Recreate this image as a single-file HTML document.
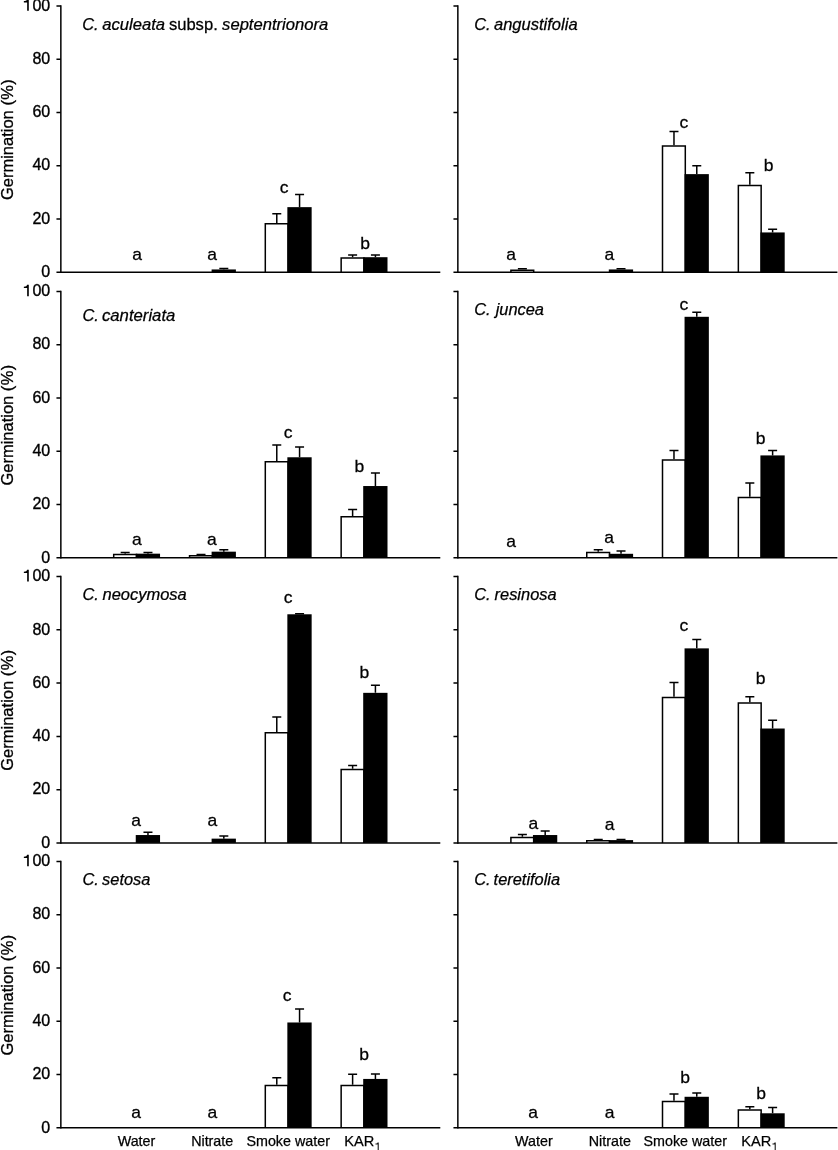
<!DOCTYPE html>
<html><head><meta charset="utf-8"><title>Germination</title>
<style>html,body{margin:0;padding:0;background:#fff}svg{display:block;will-change:transform}text{font-family:"Liberation Sans",sans-serif;fill:#000}</style>
</head><body>
<svg width="838" height="1150" viewBox="0 0 838 1150">
<rect width="838" height="1150" fill="#fff"/>
<path d="M223.82 269.45V268.61M219.32 268.61H228.32" stroke="#000" stroke-width="1.5" fill="none"/>
<rect x="211.6" y="269.45" width="24.3" height="2.8" fill="#000"/>
<path d="M276.78 223.12V213.75M272.28 213.75H281.28" stroke="#000" stroke-width="1.5" fill="none"/>
<path d="M265.3 272.25V223.87H288.1V272.25" fill="#fff" stroke="#000" stroke-width="1.5"/>
<path d="M299.57 207.14V194.57M295.07 194.57H304.07" stroke="#000" stroke-width="1.5" fill="none"/>
<rect x="287.35" y="207.14" width="24.3" height="65.11" fill="#000"/>
<path d="M352.62 257.2V255.02M348.12 255.02H357.12" stroke="#000" stroke-width="1.5" fill="none"/>
<path d="M341.15 272.25V257.95H363.95V272.25" fill="#fff" stroke="#000" stroke-width="1.5"/>
<path d="M375.42 257.2V255.02M370.92 255.02H379.92" stroke="#000" stroke-width="1.5" fill="none"/>
<rect x="363.2" y="257.2" width="24.3" height="15.05" fill="#000"/>
<g stroke="#000" stroke-width="1.5" fill="none">
<path d="M60.85 5.2V273"/>
<path d="M56.45 272.25H440.3"/>
<path d="M56.45 218.99H60.85M56.45 165.73H60.85M56.45 112.47H60.85M56.45 59.21H60.85M56.45 5.95H60.85"/>
</g>
<text transform="translate(137.2 259.85) scale(1.08 1)" font-size="16.2" text-anchor="middle" stroke="#000" stroke-width="0.25">a</text>
<text transform="translate(212.1 259.85) scale(1.08 1)" font-size="16.2" text-anchor="middle" stroke="#000" stroke-width="0.25">a</text>
<text transform="translate(284.2 193.45) scale(1.08 1)" font-size="16.2" text-anchor="middle" stroke="#000" stroke-width="0.25">c</text>
<text transform="translate(365.2 248.65) scale(1.08 1)" font-size="16.2" text-anchor="middle" stroke="#000" stroke-width="0.25">b</text>
<text transform="translate(82.27 30.1) scale(1 1)" font-size="16.4" font-style="italic" stroke="#000" stroke-width="0.25">C.</text>
<text transform="translate(102.2 30.1) scale(1.015 1)" font-size="16.4" font-style="italic" stroke="#000" stroke-width="0.25">aculeata</text>
<text transform="translate(168.88 30.1) scale(1.012 1)" font-size="16.4" stroke="#000" stroke-width="0.25">subsp.</text>
<text transform="translate(222.1 30.1) scale(1.013 1)" font-size="16.4" font-style="italic" stroke="#000" stroke-width="0.25">septentrionora</text>
<path d="M522.38 269.45V268.87M517.88 268.87H526.88" stroke="#000" stroke-width="1.5" fill="none"/>
<path d="M510.9 272.25V270.2H533.7V272.25" fill="#fff" stroke="#000" stroke-width="1.5"/>
<path d="M621.02 269.45V268.87M616.52 268.87H625.52" stroke="#000" stroke-width="1.5" fill="none"/>
<rect x="608.8" y="269.45" width="24.3" height="2.8" fill="#000"/>
<path d="M673.98 145.36V131.46M669.48 131.46H678.48" stroke="#000" stroke-width="1.5" fill="none"/>
<path d="M662.5 272.25V146.11H685.3V272.25" fill="#fff" stroke="#000" stroke-width="1.5"/>
<path d="M696.77 174.12V165.81M692.27 165.81H701.27" stroke="#000" stroke-width="1.5" fill="none"/>
<rect x="684.55" y="174.12" width="24.3" height="98.13" fill="#000"/>
<path d="M749.83 184.77V172.74M745.33 172.74H754.33" stroke="#000" stroke-width="1.5" fill="none"/>
<path d="M738.35 272.25V185.52H761.15V272.25" fill="#fff" stroke="#000" stroke-width="1.5"/>
<path d="M772.62 232.44V229.19M768.12 229.19H777.12" stroke="#000" stroke-width="1.5" fill="none"/>
<rect x="760.4" y="232.44" width="24.3" height="39.81" fill="#000"/>
<g stroke="#000" stroke-width="1.5" fill="none">
<path d="M457.85 5.2V273"/>
<path d="M453.45 272.25H837.4"/>
<path d="M453.45 218.99H457.85M453.45 165.73H457.85M453.45 112.47H457.85M453.45 59.21H457.85M453.45 5.95H457.85"/>
</g>
<text transform="translate(511 259.65) scale(1.08 1)" font-size="16.2" text-anchor="middle" stroke="#000" stroke-width="0.25">a</text>
<text transform="translate(609.3 259.65) scale(1.08 1)" font-size="16.2" text-anchor="middle" stroke="#000" stroke-width="0.25">a</text>
<text transform="translate(684 128.05) scale(1.08 1)" font-size="16.2" text-anchor="middle" stroke="#000" stroke-width="0.25">c</text>
<text transform="translate(768.5 170.55) scale(1.08 1)" font-size="16.2" text-anchor="middle" stroke="#000" stroke-width="0.25">b</text>
<text transform="translate(474.28 29.8) scale(1 1)" font-size="16.4" font-style="italic" stroke="#000" stroke-width="0.25">C.</text>
<text transform="translate(494 29.8) scale(1.008 1)" font-size="16.4" font-style="italic" stroke="#000" stroke-width="0.25">angustifolia</text>
<text x="50.2" y="276.95" font-size="16.0" text-anchor="end" stroke="#000" stroke-width="0.35">0</text>
<text x="50.2" y="223.69" font-size="16.0" text-anchor="end" stroke="#000" stroke-width="0.35">20</text>
<text x="50.2" y="170.43" font-size="16.0" text-anchor="end" stroke="#000" stroke-width="0.35">40</text>
<text x="50.2" y="117.17" font-size="16.0" text-anchor="end" stroke="#000" stroke-width="0.35">60</text>
<text x="50.2" y="63.91" font-size="16.0" text-anchor="end" stroke="#000" stroke-width="0.35">80</text>
<text x="50.2" y="10.65" font-size="16.0" text-anchor="end" stroke="#000" stroke-width="0.35">00</text>
<path d="M28.8 -0.85V10.75H27.15V2.45H23.85V1.1C26 1.1 26.95 0.4 27.05 -0.85Z" fill="#000"/>
<text transform="translate(13.2 139.4) rotate(-90)" font-size="16.5" text-anchor="middle" stroke="#000" stroke-width="0.3">Germination <tspan letter-spacing="0.4">(%)</tspan></text>
<path d="M125.17 553.67V552.56M120.67 552.56H129.68" stroke="#000" stroke-width="1.5" fill="none"/>
<path d="M113.7 557.8V554.42H136.5V557.8" fill="#fff" stroke="#000" stroke-width="1.5"/>
<path d="M147.97 553.67V552.56M143.47 552.56H152.47" stroke="#000" stroke-width="1.5" fill="none"/>
<rect x="135.75" y="553.67" width="24.3" height="4.13" fill="#000"/>
<path d="M201.02 555V554.55M196.52 554.55H205.52" stroke="#000" stroke-width="1.5" fill="none"/>
<path d="M189.55 557.8V555.75H212.35V557.8" fill="#fff" stroke="#000" stroke-width="1.5"/>
<path d="M223.82 551.67V549.63M219.32 549.63H228.32" stroke="#000" stroke-width="1.5" fill="none"/>
<rect x="211.6" y="551.67" width="24.3" height="6.13" fill="#000"/>
<path d="M276.78 461V444.97M272.28 444.97H281.28" stroke="#000" stroke-width="1.5" fill="none"/>
<path d="M265.3 557.8V461.75H288.1V557.8" fill="#fff" stroke="#000" stroke-width="1.5"/>
<path d="M299.57 457.27V447.1M295.07 447.1H304.07" stroke="#000" stroke-width="1.5" fill="none"/>
<rect x="287.35" y="457.27" width="24.3" height="100.53" fill="#000"/>
<path d="M352.62 516.12V509.42M348.12 509.42H357.12" stroke="#000" stroke-width="1.5" fill="none"/>
<path d="M341.15 557.8V516.87H363.95V557.8" fill="#fff" stroke="#000" stroke-width="1.5"/>
<path d="M375.42 486.03V472.93M370.92 472.93H379.92" stroke="#000" stroke-width="1.5" fill="none"/>
<rect x="363.2" y="486.03" width="24.3" height="71.77" fill="#000"/>
<g stroke="#000" stroke-width="1.5" fill="none">
<path d="M60.85 290.75V558.55"/>
<path d="M56.45 557.8H440.3"/>
<path d="M56.45 504.54H60.85M56.45 451.28H60.85M56.45 398.02H60.85M56.45 344.76H60.85M56.45 291.5H60.85"/>
</g>
<text transform="translate(136.9 545.25) scale(1.08 1)" font-size="16.2" text-anchor="middle" stroke="#000" stroke-width="0.25">a</text>
<text transform="translate(211.9 545.25) scale(1.08 1)" font-size="16.2" text-anchor="middle" stroke="#000" stroke-width="0.25">a</text>
<text transform="translate(288.2 437.65) scale(1.08 1)" font-size="16.2" text-anchor="middle" stroke="#000" stroke-width="0.25">c</text>
<text transform="translate(359.3 471.95) scale(1.08 1)" font-size="16.2" text-anchor="middle" stroke="#000" stroke-width="0.25">b</text>
<text transform="translate(82.38 321) scale(1 1)" font-size="16.4" font-style="italic" stroke="#000" stroke-width="0.25">C.</text>
<text transform="translate(101.97 321) scale(1.02 1)" font-size="16.4" font-style="italic" stroke="#000" stroke-width="0.25">canteriata</text>
<path d="M598.23 551.81V549.63M593.73 549.63H602.73" stroke="#000" stroke-width="1.5" fill="none"/>
<path d="M586.75 557.8V552.56H609.55V557.8" fill="#fff" stroke="#000" stroke-width="1.5"/>
<path d="M621.02 553.8V551.09M616.52 551.09H625.52" stroke="#000" stroke-width="1.5" fill="none"/>
<rect x="608.8" y="553.8" width="24.3" height="4" fill="#000"/>
<path d="M673.98 459.14V450.56M669.48 450.56H678.48" stroke="#000" stroke-width="1.5" fill="none"/>
<path d="M662.5 557.8V459.89H685.3V557.8" fill="#fff" stroke="#000" stroke-width="1.5"/>
<path d="M696.77 316.8V312.36M692.27 312.36H701.27" stroke="#000" stroke-width="1.5" fill="none"/>
<rect x="684.55" y="316.8" width="24.3" height="241" fill="#000"/>
<path d="M749.83 496.68V483.05M745.33 483.05H754.33" stroke="#000" stroke-width="1.5" fill="none"/>
<path d="M738.35 557.8V497.43H761.15V557.8" fill="#fff" stroke="#000" stroke-width="1.5"/>
<path d="M772.62 455.41V450.56M768.12 450.56H777.12" stroke="#000" stroke-width="1.5" fill="none"/>
<rect x="760.4" y="455.41" width="24.3" height="102.39" fill="#000"/>
<g stroke="#000" stroke-width="1.5" fill="none">
<path d="M457.85 290.75V558.55"/>
<path d="M453.45 557.8H837.4"/>
<path d="M453.45 504.54H457.85M453.45 451.28H457.85M453.45 398.02H457.85M453.45 344.76H457.85M453.45 291.5H457.85"/>
</g>
<text transform="translate(511 546.75) scale(1.08 1)" font-size="16.2" text-anchor="middle" stroke="#000" stroke-width="0.25">a</text>
<text transform="translate(609.1 543.35) scale(1.08 1)" font-size="16.2" text-anchor="middle" stroke="#000" stroke-width="0.25">a</text>
<text transform="translate(684 310.45) scale(1.08 1)" font-size="16.2" text-anchor="middle" stroke="#000" stroke-width="0.25">c</text>
<text transform="translate(760.6 444.35) scale(1.08 1)" font-size="16.2" text-anchor="middle" stroke="#000" stroke-width="0.25">b</text>
<text transform="translate(474.28 315) scale(1 1)" font-size="16.4" font-style="italic" stroke="#000" stroke-width="0.25">C.</text>
<text transform="translate(495.65 315) scale(1 1)" font-size="16.4" font-style="italic" stroke="#000" stroke-width="0.25">juncea</text>
<text x="50.2" y="562.5" font-size="16.0" text-anchor="end" stroke="#000" stroke-width="0.35">0</text>
<text x="50.2" y="509.24" font-size="16.0" text-anchor="end" stroke="#000" stroke-width="0.35">20</text>
<text x="50.2" y="455.98" font-size="16.0" text-anchor="end" stroke="#000" stroke-width="0.35">40</text>
<text x="50.2" y="402.72" font-size="16.0" text-anchor="end" stroke="#000" stroke-width="0.35">60</text>
<text x="50.2" y="349.46" font-size="16.0" text-anchor="end" stroke="#000" stroke-width="0.35">80</text>
<text x="50.2" y="296.2" font-size="16.0" text-anchor="end" stroke="#000" stroke-width="0.35">00</text>
<path d="M28.8 284.7V296.3H27.15V288H23.85V286.65C26 286.65 26.95 285.95 27.05 284.7Z" fill="#000"/>
<text transform="translate(13.2 424.95) rotate(-90)" font-size="16.5" text-anchor="middle" stroke="#000" stroke-width="0.3">Germination <tspan letter-spacing="0.4">(%)</tspan></text>
<path d="M147.97 835.04V832.33M143.47 832.33H152.47" stroke="#000" stroke-width="1.5" fill="none"/>
<rect x="135.75" y="835.04" width="24.3" height="7.86" fill="#000"/>
<path d="M223.82 838.64V836.06M219.32 836.06H228.32" stroke="#000" stroke-width="1.5" fill="none"/>
<rect x="211.6" y="838.64" width="24.3" height="4.26" fill="#000"/>
<path d="M276.78 731.99V717.02M272.28 717.02H281.28" stroke="#000" stroke-width="1.5" fill="none"/>
<path d="M265.3 842.9V732.74H288.1V842.9" fill="#fff" stroke="#000" stroke-width="1.5"/>
<path d="M299.57 614.28V613.7M295.07 613.7H304.07" stroke="#000" stroke-width="1.5" fill="none"/>
<rect x="287.35" y="614.28" width="24.3" height="228.62" fill="#000"/>
<path d="M352.62 768.73V765.49M348.12 765.49H357.12" stroke="#000" stroke-width="1.5" fill="none"/>
<path d="M341.15 842.9V769.48H363.95V842.9" fill="#fff" stroke="#000" stroke-width="1.5"/>
<path d="M375.42 692.84V685.33M370.92 685.33H379.92" stroke="#000" stroke-width="1.5" fill="none"/>
<rect x="363.2" y="692.84" width="24.3" height="150.06" fill="#000"/>
<g stroke="#000" stroke-width="1.5" fill="none">
<path d="M60.85 575.85V843.65"/>
<path d="M56.45 842.9H440.3"/>
<path d="M56.45 789.64H60.85M56.45 736.38H60.85M56.45 683.12H60.85M56.45 629.86H60.85M56.45 576.6H60.85"/>
</g>
<text transform="translate(136 826.45) scale(1.08 1)" font-size="16.2" text-anchor="middle" stroke="#000" stroke-width="0.25">a</text>
<text transform="translate(212.4 826.45) scale(1.08 1)" font-size="16.2" text-anchor="middle" stroke="#000" stroke-width="0.25">a</text>
<text transform="translate(288.2 603.35) scale(1.08 1)" font-size="16.2" text-anchor="middle" stroke="#000" stroke-width="0.25">c</text>
<text transform="translate(364.3 678.35) scale(1.08 1)" font-size="16.2" text-anchor="middle" stroke="#000" stroke-width="0.25">b</text>
<text transform="translate(82.38 600) scale(1 1)" font-size="16.4" font-style="italic" stroke="#000" stroke-width="0.25">C.</text>
<text transform="translate(102.5 600) scale(1.005 1)" font-size="16.4" font-style="italic" stroke="#000" stroke-width="0.25">neocymosa</text>
<path d="M522.38 836.64V834.46M517.88 834.46H526.88" stroke="#000" stroke-width="1.5" fill="none"/>
<path d="M510.9 842.9V837.39H533.7V842.9" fill="#fff" stroke="#000" stroke-width="1.5"/>
<path d="M545.18 835.04V831M540.68 831H549.68" stroke="#000" stroke-width="1.5" fill="none"/>
<rect x="532.95" y="835.04" width="24.3" height="7.86" fill="#000"/>
<path d="M598.23 840.1V839.52M593.73 839.52H602.73" stroke="#000" stroke-width="1.5" fill="none"/>
<path d="M586.75 842.9V840.85H609.55V842.9" fill="#fff" stroke="#000" stroke-width="1.5"/>
<path d="M621.02 840.1V839.52M616.52 839.52H625.52" stroke="#000" stroke-width="1.5" fill="none"/>
<rect x="608.8" y="840.1" width="24.3" height="2.8" fill="#000"/>
<path d="M673.98 696.83V682.4M669.48 682.4H678.48" stroke="#000" stroke-width="1.5" fill="none"/>
<path d="M662.5 842.9V697.58H685.3V842.9" fill="#fff" stroke="#000" stroke-width="1.5"/>
<path d="M696.77 648.37V639.53M692.27 639.53H701.27" stroke="#000" stroke-width="1.5" fill="none"/>
<rect x="684.55" y="648.37" width="24.3" height="194.53" fill="#000"/>
<path d="M749.83 702.16V696.78M745.33 696.78H754.33" stroke="#000" stroke-width="1.5" fill="none"/>
<path d="M738.35 842.9V702.91H761.15V842.9" fill="#fff" stroke="#000" stroke-width="1.5"/>
<path d="M772.62 728.52V720.22M768.12 720.22H777.12" stroke="#000" stroke-width="1.5" fill="none"/>
<rect x="760.4" y="728.52" width="24.3" height="114.38" fill="#000"/>
<g stroke="#000" stroke-width="1.5" fill="none">
<path d="M457.85 575.85V843.65"/>
<path d="M453.45 842.9H837.4"/>
<path d="M453.45 789.64H457.85M453.45 736.38H457.85M453.45 683.12H457.85M453.45 629.86H457.85M453.45 576.6H457.85"/>
</g>
<text transform="translate(533.4 828.75) scale(1.08 1)" font-size="16.2" text-anchor="middle" stroke="#000" stroke-width="0.25">a</text>
<text transform="translate(609.5 829.85) scale(1.08 1)" font-size="16.2" text-anchor="middle" stroke="#000" stroke-width="0.25">a</text>
<text transform="translate(684 630.85) scale(1.08 1)" font-size="16.2" text-anchor="middle" stroke="#000" stroke-width="0.25">c</text>
<text transform="translate(760.6 684.45) scale(1.08 1)" font-size="16.2" text-anchor="middle" stroke="#000" stroke-width="0.25">b</text>
<text transform="translate(474.28 600) scale(1 1)" font-size="16.4" font-style="italic" stroke="#000" stroke-width="0.25">C.</text>
<text transform="translate(494.6 600) scale(1 1)" font-size="16.4" font-style="italic" stroke="#000" stroke-width="0.25">resinosa</text>
<text x="50.2" y="847.6" font-size="16.0" text-anchor="end" stroke="#000" stroke-width="0.35">0</text>
<text x="50.2" y="794.34" font-size="16.0" text-anchor="end" stroke="#000" stroke-width="0.35">20</text>
<text x="50.2" y="741.08" font-size="16.0" text-anchor="end" stroke="#000" stroke-width="0.35">40</text>
<text x="50.2" y="687.82" font-size="16.0" text-anchor="end" stroke="#000" stroke-width="0.35">60</text>
<text x="50.2" y="634.56" font-size="16.0" text-anchor="end" stroke="#000" stroke-width="0.35">80</text>
<text x="50.2" y="581.3" font-size="16.0" text-anchor="end" stroke="#000" stroke-width="0.35">00</text>
<path d="M28.8 569.8V581.4H27.15V573.1H23.85V571.75C26 571.75 26.95 571.05 27.05 569.8Z" fill="#000"/>
<text transform="translate(13.2 710.05) rotate(-90)" font-size="16.5" text-anchor="middle" stroke="#000" stroke-width="0.3">Germination <tspan letter-spacing="0.4">(%)</tspan></text>
<path d="M276.78 1084.79V1077.82M272.28 1077.82H281.28" stroke="#000" stroke-width="1.5" fill="none"/>
<path d="M265.3 1127.8V1085.54H288.1V1127.8" fill="#fff" stroke="#000" stroke-width="1.5"/>
<path d="M299.57 1022.48V1009.11M295.07 1009.11H304.07" stroke="#000" stroke-width="1.5" fill="none"/>
<rect x="287.35" y="1022.48" width="24.3" height="105.32" fill="#000"/>
<path d="M352.62 1084.79V1074.36M348.12 1074.36H357.12" stroke="#000" stroke-width="1.5" fill="none"/>
<path d="M341.15 1127.8V1085.54H363.95V1127.8" fill="#fff" stroke="#000" stroke-width="1.5"/>
<path d="M375.42 1078.93V1074.09M370.92 1074.09H379.92" stroke="#000" stroke-width="1.5" fill="none"/>
<rect x="363.2" y="1078.93" width="24.3" height="48.87" fill="#000"/>
<g stroke="#000" stroke-width="1.5" fill="none">
<path d="M60.85 860.75V1128.55"/>
<path d="M56.45 1127.8H440.3"/>
<path d="M56.45 1074.54H60.85M56.45 1021.28H60.85M56.45 968.02H60.85M56.45 914.76H60.85M56.45 861.5H60.85"/>
</g>
<text transform="translate(136.1 1118.15) scale(1.08 1)" font-size="16.2" text-anchor="middle" stroke="#000" stroke-width="0.25">a</text>
<text transform="translate(212.4 1118.15) scale(1.08 1)" font-size="16.2" text-anchor="middle" stroke="#000" stroke-width="0.25">a</text>
<text transform="translate(287.2 1001.05) scale(1.08 1)" font-size="16.2" text-anchor="middle" stroke="#000" stroke-width="0.25">c</text>
<text transform="translate(364.2 1059.65) scale(1.08 1)" font-size="16.2" text-anchor="middle" stroke="#000" stroke-width="0.25">b</text>
<text transform="translate(82.38 884.7) scale(1 1)" font-size="16.4" font-style="italic" stroke="#000" stroke-width="0.25">C.</text>
<text transform="translate(102.1 884.7) scale(1 1)" font-size="16.4" font-style="italic" stroke="#000" stroke-width="0.25">setosa</text>
<path d="M673.98 1100.77V1094.06M669.48 1094.06H678.48" stroke="#000" stroke-width="1.5" fill="none"/>
<path d="M662.5 1127.8V1101.52H685.3V1127.8" fill="#fff" stroke="#000" stroke-width="1.5"/>
<path d="M696.77 1096.78V1093M692.27 1093H701.27" stroke="#000" stroke-width="1.5" fill="none"/>
<rect x="684.55" y="1096.78" width="24.3" height="31.02" fill="#000"/>
<path d="M749.83 1109.29V1106.85M745.33 1106.85H754.33" stroke="#000" stroke-width="1.5" fill="none"/>
<path d="M738.35 1127.8V1110.04H761.15V1127.8" fill="#fff" stroke="#000" stroke-width="1.5"/>
<path d="M772.62 1113.29V1107.38M768.12 1107.38H777.12" stroke="#000" stroke-width="1.5" fill="none"/>
<rect x="760.4" y="1113.29" width="24.3" height="14.51" fill="#000"/>
<g stroke="#000" stroke-width="1.5" fill="none">
<path d="M457.85 860.75V1128.55"/>
<path d="M453.45 1127.8H837.4"/>
<path d="M453.45 1074.54H457.85M453.45 1021.28H457.85M453.45 968.02H457.85M453.45 914.76H457.85M453.45 861.5H457.85"/>
</g>
<text transform="translate(533.2 1118.15) scale(1.08 1)" font-size="16.2" text-anchor="middle" stroke="#000" stroke-width="0.25">a</text>
<text transform="translate(609.5 1118.15) scale(1.08 1)" font-size="16.2" text-anchor="middle" stroke="#000" stroke-width="0.25">a</text>
<text transform="translate(685 1082.55) scale(1.08 1)" font-size="16.2" text-anchor="middle" stroke="#000" stroke-width="0.25">b</text>
<text transform="translate(761 1099.15) scale(1.08 1)" font-size="16.2" text-anchor="middle" stroke="#000" stroke-width="0.25">b</text>
<text transform="translate(474.28 884.7) scale(1 1)" font-size="16.4" font-style="italic" stroke="#000" stroke-width="0.25">C.</text>
<text transform="translate(493.58 884.7) scale(1 1)" font-size="16.4" font-style="italic" stroke="#000" stroke-width="0.25">teretifolia</text>
<text x="50.2" y="1132.5" font-size="16.0" text-anchor="end" stroke="#000" stroke-width="0.35">0</text>
<text x="50.2" y="1079.24" font-size="16.0" text-anchor="end" stroke="#000" stroke-width="0.35">20</text>
<text x="50.2" y="1025.98" font-size="16.0" text-anchor="end" stroke="#000" stroke-width="0.35">40</text>
<text x="50.2" y="972.72" font-size="16.0" text-anchor="end" stroke="#000" stroke-width="0.35">60</text>
<text x="50.2" y="919.46" font-size="16.0" text-anchor="end" stroke="#000" stroke-width="0.35">80</text>
<text x="50.2" y="866.2" font-size="16.0" text-anchor="end" stroke="#000" stroke-width="0.35">00</text>
<path d="M28.8 854.7V866.3H27.15V858H23.85V856.65C26 856.65 26.95 855.95 27.05 854.7Z" fill="#000"/>
<text transform="translate(13.2 994.95) rotate(-90)" font-size="16.5" text-anchor="middle" stroke="#000" stroke-width="0.3">Germination <tspan letter-spacing="0.4">(%)</tspan></text>
<text x="136.5" y="1145.7" font-size="14.3" text-anchor="middle" stroke="#000" stroke-width="0.25">Water</text>
<text x="212.2" y="1145.7" font-size="14.3" text-anchor="middle" stroke="#000" stroke-width="0.25">Nitrate</text>
<text x="288.2" y="1145.7" font-size="14.3" text-anchor="middle" stroke="#000" stroke-width="0.25">Smoke water</text>
<text x="344.3" y="1145.7" font-size="14.600000000000001" stroke="#000" stroke-width="0.25">KAR</text>
<path d="M378.8 1142.5V1151H377.65V1144.6H375.45V1143.6C376.88 1143.6 377.45 1142.9 377.55 1142.5Z" fill="#222"/>
<text x="533.9" y="1145.7" font-size="14.3" text-anchor="middle" stroke="#000" stroke-width="0.25">Water</text>
<text x="609.8" y="1145.7" font-size="14.3" text-anchor="middle" stroke="#000" stroke-width="0.25">Nitrate</text>
<text x="685.3" y="1145.7" font-size="14.3" text-anchor="middle" stroke="#000" stroke-width="0.25">Smoke water</text>
<text x="741.3" y="1145.7" font-size="14.600000000000001" stroke="#000" stroke-width="0.25">KAR</text>
<path d="M775.8 1142.5V1151H774.65V1144.6H772.45V1143.6C773.88 1143.6 774.45 1142.9 774.55 1142.5Z" fill="#222"/>
</svg></body></html>
